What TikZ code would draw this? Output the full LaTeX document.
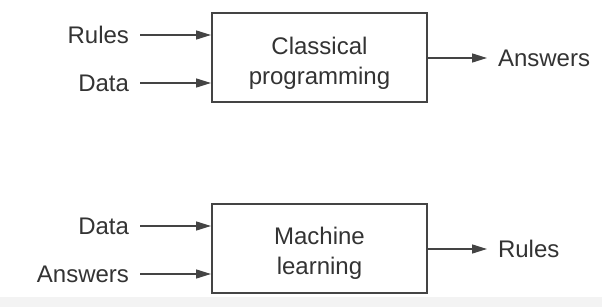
\documentclass[tikz,border=0pt]{standalone}
\usepackage{fontspec}
\setmainfont{Liberation Sans}
\usetikzlibrary{arrows.meta,positioning}

\definecolor{inkgray}{HTML}{333333}
\definecolor{edgegray}{HTML}{444444}
\definecolor{bandgray}{HTML}{F3F3F3}

\begin{document}
\begin{tikzpicture}[
x=1pt,
y=-1pt,
every node/.style={font=\fontsize{24}{30}\selectfont,text=inkgray},
engine/.style={rectangle,draw=edgegray,line width=2pt,fill=white,minimum width=215pt,minimum height=89pt,inner sep=0pt},
enginetext/.style={align=center,inner sep=0pt},
inlbl/.style={anchor=east,inner sep=0pt,outer sep=11pt},
outlbl/.style={anchor=west,inner sep=0pt,outer sep=11pt},
arr/.style={-{Triangle[length=15pt,width=9pt]},line width=1.5pt,draw=edgegray}
]
\useasboundingbox (0,0) rectangle (602,307);
\fill[bandgray] (0,297) rectangle (602,307);

% classical programming
\node[engine] (classic) at (319.5,57.5) {};
\node[enginetext] (classictext) at ([yshift=-5.5pt]classic.center) {Classical\\programming};
\node[inlbl] (rulesin) at (140,35) {Rules};
\node[inlbl] (datain) at (140,83) {Data};
\node[outlbl] (answersout) at (487,58) {Answers};

\draw[arr] (rulesin.east) -- (rulesin.east -| classic.west);
\draw[arr] (datain.east) -- (datain.east -| classic.west);
\draw[arr] (answersout.west -| classic.east) -- (answersout.west);

% machine learning
\node[engine] (learner) at (319.5,248.5) {};
\node[enginetext] (learnertext) at ([yshift=-4.5pt]learner.center) {Machine\\learning};
\node[inlbl] (datamlin) at (140,226) {Data};
\node[inlbl] (answersmlin) at (140,274) {Answers};
\node[outlbl] (rulesout) at (487,249) {Rules};

\draw[arr] (datamlin.east) -- (datamlin.east -| learner.west);
\draw[arr] (answersmlin.east) -- (answersmlin.east -| learner.west);
\draw[arr] (rulesout.west -| learner.east) -- (rulesout.west);
\end{tikzpicture}
\end{document}
